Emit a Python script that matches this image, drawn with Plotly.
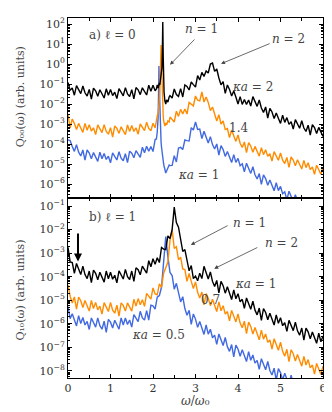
import numpy as np
import plotly.graph_objects as go

# Spectra are stored as log10 values (noise included).
# Top panel (l = 0) x grid: coarse / fine around the n = 1 spike / coarse.
X_TOP_LEFT = np.round(np.arange(0.0, 2.051, 0.05), 2)
X_TOP_SPIKE = [2.08, 2.10, 2.12, 2.13, 2.14, 2.15, 2.16, 2.17, 2.18, 2.19, 2.20,
               2.21, 2.22, 2.23, 2.24, 2.25, 2.26, 2.28, 2.30, 2.32, 2.35, 2.38]
X_TOP_RIGHT = np.round(np.arange(2.40, 6.001, 0.05), 2)
X_BOT = np.round(np.arange(0.0, 6.001, 0.05), 2)

TOP_BLACK = [
    -0.92, -1.32, -1.20, -1.56, -1.08, -1.30, -1.48, -1.10, -1.44, -1.60,
    -1.27, -1.75, -1.21, -1.34, -1.61, -1.29, -1.50, -1.70, -1.24, -1.56,
    -1.28, -1.58, -1.41, -1.73, -1.23, -1.42, -1.59, -1.18, -1.50, -1.63,
    -1.28, -1.74, -1.18, -1.29, -1.53, -1.19, -1.37, -1.55, -1.06, -1.36,
    -1.06, -1.34,
    # n = 1 spike
    -1.25, -1.05, -1.20, -1.00, -1.10, -0.95, -1.05, -0.90, -0.85, -0.75,
    -0.55, -0.20, 0.60, 2.10, 0.40, -0.70, -1.40, -1.85, -2.00, -1.80,
    -1.90, -1.65,
    # n = 2 hump and tail
    -1.58, -1.70, -1.25, -1.53, -1.62, -1.23, -1.65, -1.05, -1.12, -1.30,
    -0.90, -1.03, -1.15, -0.58, -0.80, -0.42, -0.62, -0.35, -0.45, 0.00,
    0.05, -0.37, -0.25, -0.70, -1.04, -0.88, -1.47, -1.05, -1.27, -1.60,
    -1.35, -1.65, -2.00, -1.63, -2.02, -1.77, -2.02, -1.80, -2.10, -1.63,
    -1.88, -2.12, -1.80, -2.20, -2.42, -2.15, -2.70, -2.22, -2.40, -2.73,
    -2.45, -2.71, -2.97, -2.56, -2.92, -2.68, -3.02, -2.89, -3.25, -2.78,
    -3.01, -3.21, -2.84, -3.20, -3.37, -3.06, -3.55, -3.03, -3.18, -3.47,
    -3.17, -3.40, -3.62,
]

TOP_ORANGE = [
    -2.53, -3.20, -2.75, -2.97, -3.28, -2.97, -3.20, -3.42, -2.97, -3.31,
    -3.04, -3.35, -3.19, -3.53, -3.04, -3.25, -3.43, -3.03, -3.37, -3.51,
    -3.18, -3.65, -3.10, -3.22, -3.47, -3.14, -3.33, -3.53, -3.05, -3.37,
    -3.08, -3.37, -3.19, -3.51, -3.00, -3.18, -3.33, -2.91, -3.22, -3.34,
    -2.96, -3.20,
    -2.75, -2.60, -2.45, -2.30, -2.10, -1.80, -1.40, -0.80, 0.10, 0.95,
    0.20, -0.80, -1.60, -2.20, -2.60, -2.85, -3.00, -3.10, -2.95, -3.05,
    -2.85, -2.90,
    -2.65, -2.77, -2.90, -2.36, -2.62, -2.27, -2.50, -2.25, -2.50, -1.92,
    -2.03, -2.10, -1.60, -1.81, -1.84, -1.40, -1.90, -1.65, -1.92, -2.33,
    -2.15, -2.50, -2.85, -2.53, -3.00, -2.85, -3.28, -3.23, -3.68, -3.30,
    -3.60, -3.87, -3.55, -3.96, -4.17, -3.90, -4.43, -3.93, -4.10, -4.41,
    -4.12, -4.36, -4.61, -4.18, -4.53, -4.29, -4.62, -4.49, -4.85, -4.38,
    -4.61, -4.81, -4.45, -4.81, -4.98, -4.67, -5.17, -4.65, -4.80, -5.09,
    -4.79, -5.02, -5.25, -4.82, -5.18, -4.94, -5.28, -5.15, -5.52, -5.06,
    -5.30, -5.51, -5.15,
]

TOP_BLUE = [
    -3.80, -3.83, -4.13, -4.37, -4.03, -4.41, -4.60, -4.30, -4.81, -4.30,
    -4.45, -4.74, -4.43, -4.65, -4.87, -4.41, -4.74, -4.47, -4.77, -4.61,
    -4.94, -4.44, -4.63, -4.80, -4.39, -4.71, -4.84, -4.48, -4.93, -4.36,
    -4.46, -4.69, -4.33, -4.50, -4.67, -4.16, -4.44, -4.11, -4.36, -4.13,
    -4.38, -3.78,
    -3.75, -3.40, -2.70, -1.60, -0.10, -1.30, -2.40, -3.10, -3.50, -3.90,
    -4.15, -4.40, -4.55, -4.75, -4.85, -5.00, -5.10, -5.30, -5.45, -5.35,
    -5.20, -5.05,
    -5.08, -5.07, -4.58, -4.90, -4.20, -4.17, -4.28, -3.80, -3.83, -3.85,
    -3.18, -3.30, -2.90, -3.27, -3.25, -3.73, -3.36, -3.68, -3.95, -3.63,
    -4.03, -4.25, -4.00, -4.55, -4.08, -4.28, -4.62, -4.37, -4.65, -4.93,
    -4.53, -4.92, -4.72, -5.09, -4.99, -5.39, -4.96, -5.23, -5.47, -5.14,
    -5.54, -5.75, -5.48, -6.02, -5.54, -5.73, -6.06, -5.80, -6.07, -6.34,
    -5.94, -6.33, -6.12, -6.49, -6.39, -6.79, -6.36, -6.63, -6.87, -6.54,
    -6.94, -7.15, -6.88, -7.42, -6.94, -7.13, -7.46, -7.20, -7.47, -7.74,
    -7.34, -7.73, -7.52,
]

BOT_BLACK = [
    -2.75, -3.37, -3.40, -3.86, -3.44, -3.70, -3.91, -3.55, -3.91, -4.08,
    -3.76, -4.25, -3.72, -3.86, -4.13, -3.81, -4.02, -4.23, -3.76, -4.09,
    -3.81, -4.11, -3.94, -4.26, -3.75, -3.94, -4.10, -3.69, -4.00, -4.12,
    -3.76, -4.20, -3.62, -3.70, -3.92, -3.55, -3.70, -3.85, -3.32, -3.58,
    -3.24, -3.47, -3.20, -3.40, -2.76, -2.83, -2.85, -2.27, -2.38, -2.00,
    -1.05, -1.70, -1.90, -2.37, -2.93, -2.85, -3.30, -3.75, -3.53, -4.08,
    -3.97, -4.17, -3.85, -4.08, -3.56, -3.83, -4.10, -3.80, -4.20, -4.42,
    -4.16, -4.69, -4.20, -4.38, -4.70, -4.43, -4.70, -4.97, -4.56, -4.94,
    -4.72, -5.07, -4.96, -5.34, -4.90, -5.16, -5.38, -5.04, -5.42, -5.62,
    -5.33, -5.85, -5.35, -5.52, -5.83, -5.55, -5.80, -6.05, -5.62, -5.98,
    -5.74, -6.08, -5.95, -6.32, -5.85, -6.08, -6.29, -5.93, -6.30, -6.48,
    -6.18, -6.69, -6.18, -6.34, -6.64, -6.35, -6.59, -6.83, -6.40, -6.76,
    -6.52,
]

BOT_ORANGE = [
    -4.35, -4.83, -5.12, -4.86, -5.38, -4.87, -5.02, -5.31, -5.01, -5.24,
    -5.46, -5.01, -5.35, -5.09, -5.41, -5.25, -5.59, -5.10, -5.31, -5.48,
    -5.09, -5.42, -5.55, -5.21, -5.67, -5.11, -5.22, -5.46, -5.11, -5.29,
    -5.46, -4.96, -5.25, -4.93, -5.19, -4.98, -5.26, -4.71, -4.85, -4.95,
    -4.48, -4.73, -4.77, -4.31, -4.45, -3.85, -3.62, -3.38, -2.45, -2.00,
    -2.80, -2.73, -3.28, -3.17, -3.67, -3.70, -4.20, -3.86, -4.20, -4.50,
    -4.22, -4.66, -4.90, -4.65, -5.20, -4.72, -4.91, -5.23, -4.96, -5.22,
    -5.48, -5.07, -5.45, -5.23, -5.59, -5.48, -5.87, -5.43, -5.69, -5.92,
    -5.58, -5.97, -6.17, -5.89, -6.42, -5.93, -6.11, -6.43, -6.16, -6.42,
    -6.68, -6.27, -6.65, -6.43, -6.79, -6.68, -7.07, -6.63, -6.89, -7.12,
    -6.78, -7.17, -7.37, -7.08, -7.60, -7.10, -7.27, -7.58, -7.30, -7.55,
    -7.80, -7.38, -7.75, -7.52, -7.87, -7.75, -8.13, -7.68, -7.93, -8.15,
    -7.80,
]

BOT_BLUE = [
    -5.27, -5.78, -5.57, -5.84, -6.09, -5.65, -5.99, -5.73, -6.05, -5.90,
    -6.24, -5.75, -5.96, -6.14, -5.75, -6.08, -6.23, -5.89, -6.36, -5.81,
    -5.93, -6.18, -5.85, -6.04, -6.23, -5.75, -6.05, -5.75, -6.03, -5.84,
    -6.14, -5.61, -5.78, -5.91, -5.47, -5.75, -5.84, -5.44, -5.84, -5.21,
    -5.24, -5.38, -4.87, -4.80, -4.45, -3.45, -2.30, -3.15, -3.82, -3.95,
    -4.53, -4.28, -4.70, -5.07, -4.85, -5.35, -5.64, -5.43, -6.02, -5.58,
    -5.80, -6.15, -5.90, -6.18, -6.45, -6.05, -6.44, -6.23, -6.59, -6.48,
    -6.87, -6.43, -6.69, -6.92, -6.58, -6.97, -7.17, -6.88, -7.40, -6.90,
    -7.07, -7.38, -7.10, -7.35, -7.60, -7.18, -7.55, -7.32, -7.67, -7.55,
    -7.93, -7.48, -7.73, -7.95, -7.60, -7.98, -8.17, -7.88, -8.40, -7.90,
    -8.07, -8.38, -8.10, -8.35, -8.60, -8.18, -8.55, -8.32, -8.67, -8.55,
    -8.90, -8.50, -8.75, -8.95, -8.70, -9.00, -9.20, -8.95, -9.40, -9.00,
    -9.10,
]

BLACK, ORANGE, BLUE = "#000000", "#ff8c00", "#4169e1"
TEXT = "#444444"
FONT = "DejaVu Serif"

x_top = list(X_TOP_LEFT) + X_TOP_SPIKE + list(X_TOP_RIGHT)
for name, arr in [("TOP_BLACK", TOP_BLACK), ("TOP_ORANGE", TOP_ORANGE), ("TOP_BLUE", TOP_BLUE)]:
    assert len(arr) == len(x_top), (name, len(arr), len(x_top))
for name, arr in [("BOT_BLACK", BOT_BLACK), ("BOT_ORANGE", BOT_ORANGE), ("BOT_BLUE", BOT_BLUE)]:
    assert len(arr) == len(X_BOT), (name, len(arr), len(X_BOT))

fig = go.Figure()
for vals, color in [(TOP_BLUE, BLUE), (TOP_ORANGE, ORANGE), (TOP_BLACK, BLACK)]:
    fig.add_trace(go.Scatter(x=x_top, y=10 ** np.array(vals), mode="lines",
                             line=dict(color=color, width=1.4), xaxis="x", yaxis="y"))
for vals, color in [(BOT_BLUE, BLUE), (BOT_ORANGE, ORANGE), (BOT_BLACK, BLACK)]:
    fig.add_trace(go.Scatter(x=X_BOT, y=10 ** np.array(vals), mode="lines",
                             line=dict(color=color, width=1.4), xaxis="x2", yaxis="y2"))


def sup(k):
    return "10<sup>%s</sup>" % (str(k).replace("-", "\u2212"))


def minor_vals(lo, hi):
    return [m * 10.0 ** k for k in range(lo, hi) for m in range(2, 10)]


axis_common = dict(showline=True, linecolor="black", linewidth=1, mirror="allticks",
                   ticks="inside", ticklen=4, tickcolor="black", showgrid=False,
                   zeroline=False, tickfont=dict(family=FONT, size=11, color="#333"))
title_font = dict(family=FONT, size=11, color=TEXT)

fig.update_layout(
    width=332, height=412, showlegend=False,
    margin=dict(l=60, r=17, t=8, b=42),
    paper_bgcolor="white", plot_bgcolor="white",
    xaxis=dict(domain=[0, 1], anchor="y", range=[0, 6], dtick=1, matches="x2",
               showticklabels=False, minor=dict(dtick=0.5, ticks="inside", ticklen=3),
               **axis_common),
    yaxis=dict(domain=[0.5, 1], anchor="x", type="log", range=[-6.7, 2.3],
               tickvals=[10.0 ** k for k in range(-6, 3)],
               ticktext=[sup(k) for k in range(-6, 3)],
               minor=dict(tickvals=minor_vals(-7, 3), ticks="inside", ticklen=2),
               **axis_common),
    xaxis2=dict(domain=[0, 1], anchor="y2", range=[0, 6], dtick=1,
                minor=dict(dtick=0.5, ticks="inside", ticklen=3), **axis_common),
    yaxis2=dict(domain=[0, 0.5], anchor="x2", type="log", range=[-8.3, -0.66],
                tickvals=[10.0 ** k for k in range(-8, 0)],
                ticktext=[sup(k) for k in range(-8, 0)],
                minor=dict(tickvals=minor_vals(-9, 0), ticks="inside", ticklen=2),
                **axis_common),
)


def label(text, x, y, ax="x", ay="y", size=12):
    fig.add_annotation(text=text, x=x, y=y, xref=ax, yref=ay, showarrow=False,
                       font=dict(family=FONT, size=size, color=TEXT))


def arrow(x, y, tx, ty, ax="x", ay="y", color=TEXT, width=0.8, size=1.0):
    fig.add_annotation(text="", x=x, y=y, ax=tx, ay=ty, xref=ax, yref=ay,
                       axref=ax, ayref=ay, showarrow=True, arrowhead=2,
                       arrowsize=size, arrowwidth=width, arrowcolor=color)


# top panel (annotations on log axes take log10 coordinates)
label("a) ℓ = 0", 1.04, 1.45)
label("<i>n</i> = 1", 3.15, 1.75)
arrow(2.40, -0.04, 3.01, 1.30)
label("<i>n</i> = 2", 5.18, 1.25)
arrow(3.60, 0.01, 4.78, 1.05)
label("<i>κa</i> = 2", 4.35, -1.13)
label("1.4", 4.0, -3.18)
label("<i>κa</i> = 1", 3.06, -5.57)

# bottom panel
label("b) ℓ = 1", 1.04, -1.46, "x2", "y2")
arrow(0.235, -3.36, 0.235, -2.10, "x2", "y2", color="black", width=2, size=0.8)
label("<i>n</i> = 1", 4.26, -1.72, "x2", "y2")
arrow(2.89, -2.65, 3.79, -1.80, "x2", "y2")
label("<i>n</i> = 2", 5.02, -2.56, "x2", "y2")
arrow(3.44, -3.66, 4.49, -2.73, "x2", "y2")
label("<i>κa</i> = 1", 4.42, -4.29, "x2", "y2")
label("0.7", 3.36, -5.0, "x2", "y2")
label("<i>κa</i> = 0.5", 2.12, -6.49, "x2", "y2")

# axis titles as plain paper annotations (x = -0.188 puts them ~12 px from the edge)
for text, ypos in [("Q\u2080\u2080(ω) (arb. units)", 0.78), ("Q\u2081\u2080(ω) (arb. units)", 0.243)]:
    fig.add_annotation(text=text, x=-0.188, y=ypos, xref="paper", yref="paper",
                       xanchor="center", yanchor="middle", textangle=-90,
                       showarrow=False, font=title_font)
fig.add_annotation(text="<i>ω</i>/<i>ω</i>\u2080", x=0.5, y=-0.09, xref="paper", yref="paper",
                   showarrow=False, font=dict(family=FONT, size=12, color=TEXT))

fig.write_html("out.html")
